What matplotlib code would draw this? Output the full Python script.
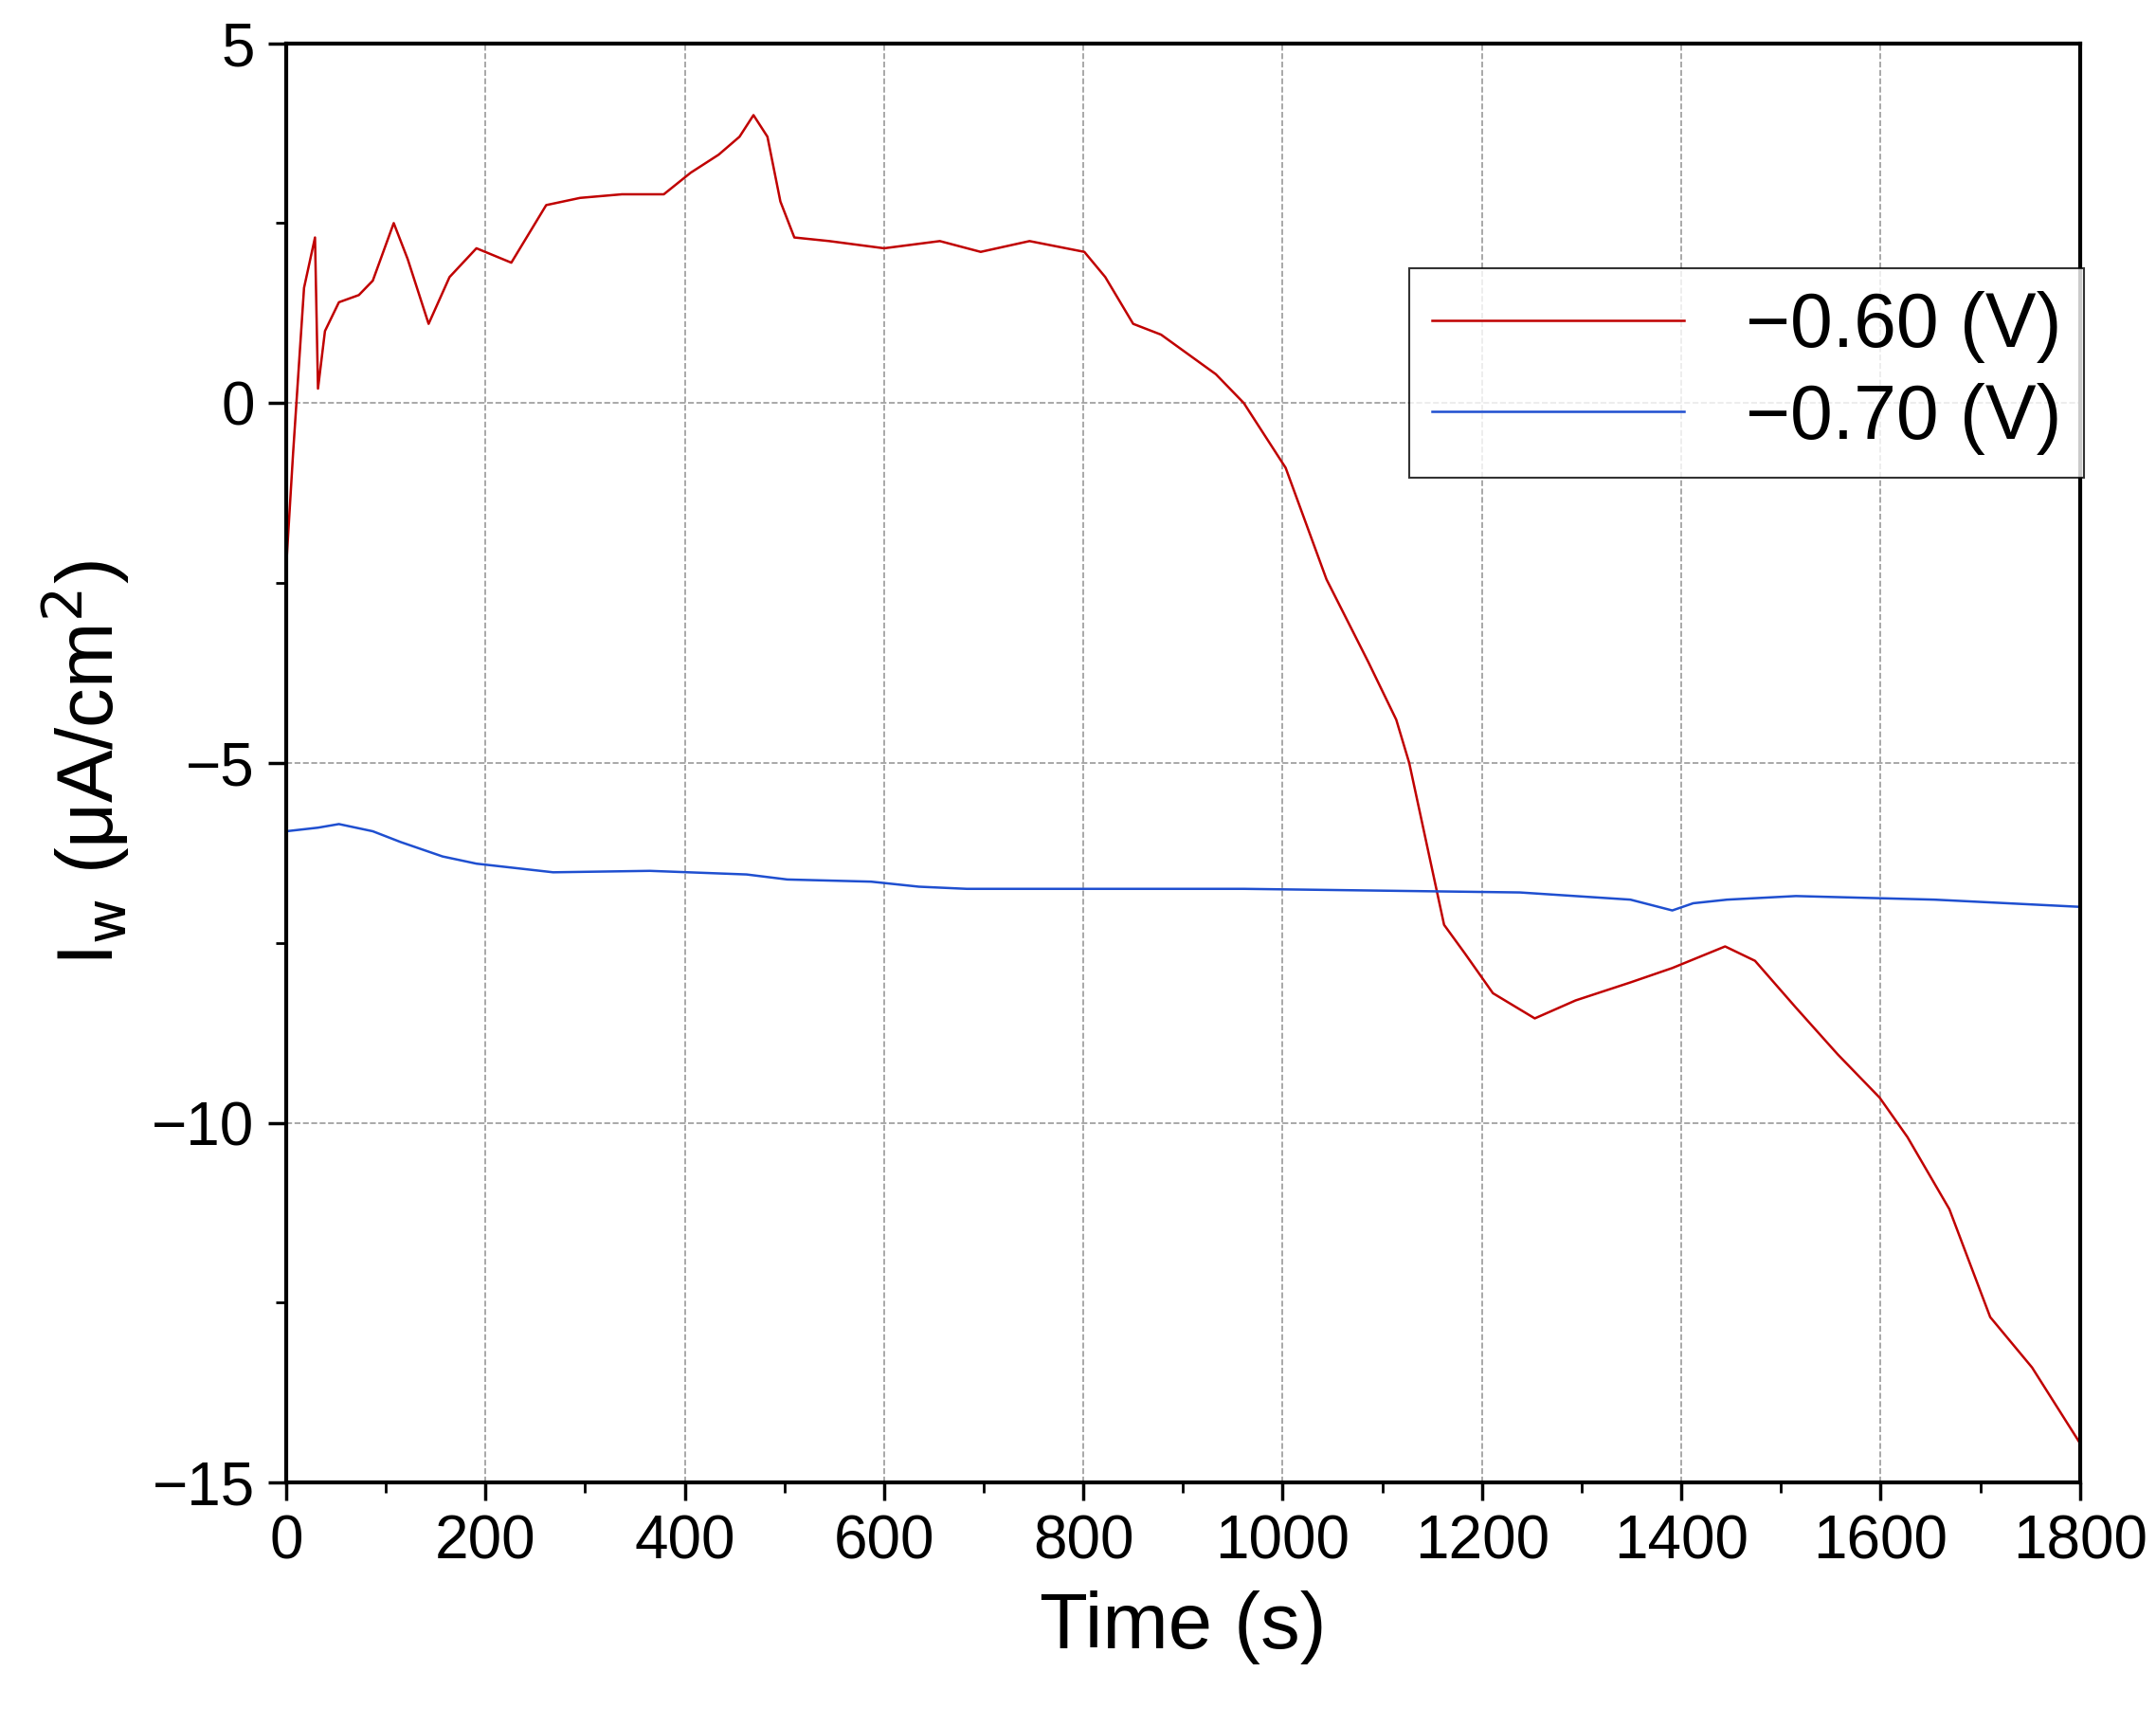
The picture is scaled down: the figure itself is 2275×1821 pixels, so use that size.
import matplotlib
matplotlib.use("Agg")
import matplotlib.pyplot as plt
from matplotlib.ticker import MultipleLocator

plt.rcParams['font.family'] = 'Liberation Sans'

t_red = [0,7,18,29,32,39,53,73,87,108,122,143,164,191,226,261,295,337,379,406,434,455,469,483,496,510,545,600,656,697,746,801,822,850,878,933,961,1003,1044,1086,1114,1127,1141,1162,1183,1211,1253,1294,1349,1391,1444,1474,1515,1557,1599,1627,1669,1710,1752,1800]
i_red = [-2.3,-0.7,1.6,2.3,0.2,1.0,1.4,1.5,1.7,2.5,2.0,1.1,1.75,2.15,1.95,2.75,2.85,2.9,2.9,3.2,3.45,3.7,4.0,3.7,2.8,2.3,2.25,2.15,2.25,2.1,2.25,2.1,1.75,1.1,0.95,0.4,0.0,-0.9,-2.45,-3.6,-4.4,-5.0,-5.9,-7.25,-7.65,-8.2,-8.55,-8.3,-8.05,-7.85,-7.55,-7.75,-8.4,-9.05,-9.65,-10.2,-11.2,-12.7,-13.4,-14.45]
t_blue = [0,32,53,87,115,157,191,268,365,462,503,587,635,683,961,1238,1349,1391,1412,1446,1515,1654,1800]
i_blue = [-5.95,-5.9,-5.85,-5.95,-6.1,-6.3,-6.4,-6.52,-6.5,-6.55,-6.62,-6.65,-6.72,-6.75,-6.75,-6.8,-6.9,-7.05,-6.95,-6.9,-6.85,-6.9,-7.0]
labels = ["\u22120.60 (V)", "\u22120.70 (V)"]

fig = plt.figure(figsize=(22.75, 18.21), dpi=100)
ax = fig.add_axes([0.1327, 0.141, 0.832, 0.834])
ax.plot(t_red, i_red, color='#c00000', lw=1.8, label=labels[0])
ax.plot(t_blue, i_blue, color='#1f4fd0', lw=1.8, label=labels[1])
ax.set_xlim(0, 1800)
ax.set_ylim(-15, 5)
ax.xaxis.set_major_locator(MultipleLocator(200))
ax.xaxis.set_minor_locator(MultipleLocator(100))
ax.yaxis.set_minor_locator(MultipleLocator(2.5))
ax.set_yticks([-15,-10,-5,0,5])
ax.set_yticklabels(["\u221215","\u221210","\u22125","0","5"])
ax.grid(True, which='major', ls='--', color='#999999', lw=1.2)
ax.tick_params(which='major', direction='out', length=14, width=2.5, labelsize=46, pad=10)
ax.tick_params(which='minor', direction='out', length=8, width=2)
for s in ax.spines.values():
    s.set_linewidth(3)
ax.set_xlabel("Time (s)", fontsize=60, labelpad=15)
ax.set_ylabel("I$_\\mathrm{w}$ (\u03bcA/cm$^2$)", fontsize=60, labelpad=15)
leg = ax.legend(loc='upper left', bbox_to_anchor=(0.605, 0.87), fontsize=58,
                frameon=True, fancybox=False, edgecolor='black', handlelength=3.3,
                borderpad=0.3, labelspacing=0.25)
leg.get_frame().set_linewidth(1.5)
fig.savefig("out.png", dpi=100)
